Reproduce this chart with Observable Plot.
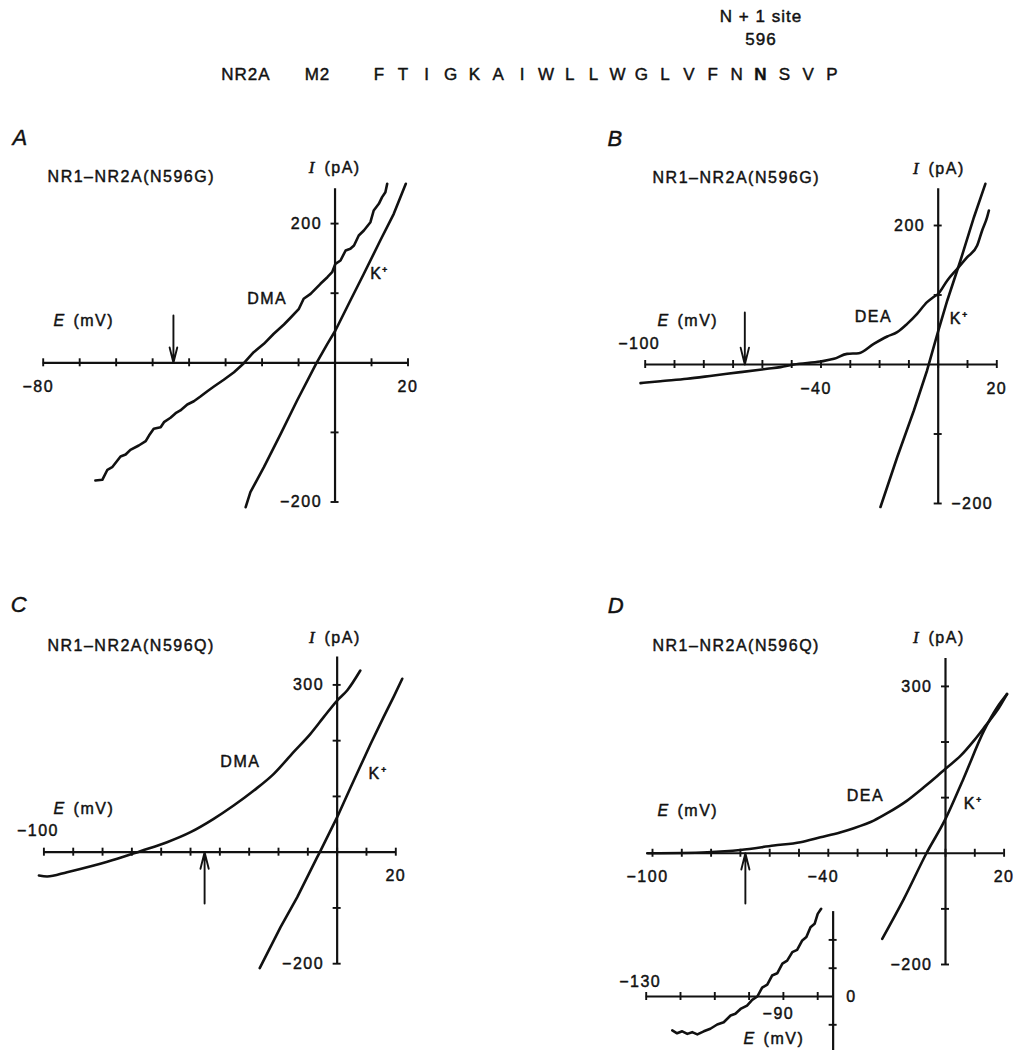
<!DOCTYPE html>
<html><head><meta charset="utf-8">
<script src="https://cdn.jsdelivr.net/npm/d3@7"></script>
<script src="https://cdn.jsdelivr.net/npm/@observablehq/plot@0.6"></script>
<style>
body{margin:0;background:#fff;}
#fig{position:relative;width:1015px;height:1050px;overflow:hidden;background:#fff;}
#fig svg{position:absolute;overflow:visible;}
</style></head><body><div id="fig"></div>
<script>
// ---------------- header data ----------------
const seqLetters = ["F","T","I","G","K","A","I","W","L","L","W","G","L","V","F","N","N","S","V","P"];
const seqBoldIndex = 16;
const seqPrefix = [{text:"NR2A", i:-5.6}, {text:"M2", i:-2.6}];
const siteLabels = [{text:"596", row:0.6}, {text:"N + 1 site", row:1}];

// ---------------- panel A : NR1-NR2A(N596G), DMA ----------------
const aDMA = [[-65.7,-169.1],[-63.8,-168.1],[-62.4,-153.7],[-61.1,-150],[-58.8,-134.6],[-57.4,-131.8],[-56.1,-125],[-53.8,-118.8],[-51.9,-112.6],[-51.0,-104.5],[-49.7,-94.8],[-47.8,-92.5],[-46.9,-85.3],[-45.1,-79.0],[-43.7,-72.4],[-42.4,-68.5],[-40.5,-59.9],[-38.7,-55.2],[-36.9,-48.4],[-35.0,-40.8],[-33.2,-34.1],[-30.5,-24.4],[-27.7,-13.5],[-25.0,-0.6],[-22.3,15.2],[-19.5,27.3],[-16.8,41.7],[-14.0,55],[-12.2,64.7],[-9.9,77.6],[-8.6,92],[-6.7,99.1],[-4.0,113.5],[-2.1,123],[-0.8,130.2],[0.1,142.2],[1.5,147],[2.9,161.4],[4.2,163.8],[5.2,168.5],[6.5,182.9],[7.9,190.1],[9.7,202],[10.6,218.8],[12.0,228.4],[12.9,238],[13.8,245.1],[14.3,257.2]];
const aK = [[-24.5,-207.5],[-23.2,-185.9],[-19.5,-150],[-14.9,-102],[-10.4,-54.2],[-5.1,-0.6],[-2.1,27.3],[0.1,46.4],[4.2,89.5],[7.9,127.9],[12.4,175.7],[16.1,214],[19.4,257.2]];
const aXTicks = [-80,-70,-60,-50,-40,-30,-20,-10,0,10,20];
const aYTicks = [-200,-100,100,200];
const aXLabels = [{v:-80,t:"−80"},{v:20,t:"20"}];
const aYLabels = [{v:200,t:"200"},{v:-200,t:"−200"}];

// ---------------- panel B : NR1-NR2A(N596G), DEA ----------------
const bDEA = [[-101.6,-26.8],[-94.8,-24],[-85.7,-20.6],[-76.6,-15.8],[-67.5,-11],[-58.4,-6.2],[-53.8,-3.8],[-49.3,0],[-40.2,4.3],[-35.6,8.1],[-31.1,15.3],[-27.1,16.3],[-22,29.7],[-17.4,40.3],[-14,46.5],[-10.6,58.5],[-7.2,72.9],[-3.8,89.7],[-1.7,96.8],[0,101.7],[3.1,120.9],[6.5,137.7],[9.9,154.4],[13.3,171.2],[15,192.8],[16.7,212],[17.3,221.6]];
const bK = [[-19.7,-205],[-14,-133.4],[-8.3,-66.2],[-3.8,-8.6],[-0.1,46.5],[3.1,92.1],[7.6,149.6],[12.2,211.9],[16.1,260]];
const bXTicks = [-100,-90,-80,-70,-60,-50,-40,-30,-20,-10,0,10,20];
const bYTicks = [-200,-100,100,200];
const bXLabels = [{v:-40,t:"−40"},{v:20,t:"20"}];
const bXLabelsAbove = [{v:-100,t:"−100"}];
const bYLabels = [{v:200,t:"200"}];
const bYLabelsRight = [{v:-200,t:"−200"}];

// ---------------- panel C : NR1-NR2A(N596Q), DMA ----------------
const cDMA = [[-101.7,-41.8],[-98.9,-43.6],[-92.1,-35.9],[-83,-23.9],[-75,-11.9],[-67.1,1.8],[-58,17.9],[-50,35.9],[-42.1,59.8],[-35.3,83.7],[-28.4,110.6],[-21.6,140.5],[-14.8,180],[-9.1,212.3],[-4.6,242.1],[0,272],[3.4,290],[7.9,325.8]];
const cK = [[-26.4,-208],[-19.3,-134.5],[-13.6,-80.7],[-6.8,-9],[-5.9,0],[0,62.8],[4.5,115],[7.9,154],[11.4,194],[15.9,243],[19.3,279],[22.2,311]];
const cXTicks = [-100,-90,-80,-70,-60,-50,-40,-30,-20,-10,0,10,20];
const cYTicks = [-200,-100,100,200,300];
const cXLabels = [{v:20,t:"20"}];
const cXLabelsAbove = [{v:-100,t:"−100"}];
const cYLabels = [{v:300,t:"300"},{v:-200,t:"−200"}];

// ---------------- panel D : NR1-NR2A(N596Q), DEA ----------------
const dDEA = [[-101.8,0],[-90,0.5],[-81.3,1.8],[-70,6],[-58.6,13.8],[-49.5,19.8],[-42.7,28.7],[-36,37.5],[-31.3,45],[-24.5,58.7],[-19.9,72],[-13.1,94.7],[-7.4,118.6],[-2.8,139],[0,152],[5.1,175],[9.7,202.5],[13.7,229.4],[17.6,256.4],[21,286.4]];
const dK = [[-21.6,-153.9],[-14.2,-82],[-6.5,0],[0,61.8],[6.2,135],[13.1,220],[17.6,262],[21,286]];
const dXTicks = [-100,-90,-80,-70,-60,-50,-40,-30,-20,-10,0,10,20];
const dYTicks = [-200,-100,100,200,300];
const dXLabels = [{v:-100,t:"−100"},{v:-40,t:"−40"},{v:20,t:"20"}];
const dYLabels = [{v:300,t:"300"},{v:-200,t:"−200"}];

// ---------------- inset of D ----------------
const insetTrace = [[-122.4,-12],[-121.0,-13],[-119.5,-12.3],[-118.0,-13.2],[-116.6,-12.6],[-115.1,-13.4],[-113.2,-12.3],[-111.3,-11.4],[-109.3,-9.9],[-107.4,-9.1],[-105.4,-6.7],[-104.0,-6.1],[-102.5,-4.4],[-100.6,-3.2],[-99.1,-1.2],[-97.6,0],[-96.2,3.1],[-94.7,4.2],[-93.3,7.4],[-91.8,8.2],[-90.3,11.6],[-88.9,12.7],[-87.4,15.7],[-86.0,16.5],[-84.5,19.8],[-83.3,21.0],[-82.1,24.5],[-80.9,25.7],[-80.0,29.2],[-79.0,31.0]];
const insetXTicks = [-130,-120,-110,-100,-90,-80];
const insetYTicks = [-10,10,20];
const insetXLabels = [{v:-90,t:"−90"}];
const insetXLabelsAbove = [{v:-130,t:"−130"}];
const insetYLabelsRight = [{v:0,t:"0"}];

const FONT = "'Liberation Sans', Arial, Helvetica, sans-serif";
const INK = "#111";
const TXT = {fill: INK, stroke: INK, strokeWidth: 0.45};
const fig = document.getElementById("fig");

function place(svg, left, top) {
  svg.style.position = "absolute";
  svg.style.left = left + "px";
  svg.style.top = top + "px";
  svg.style.background = "transparent";
  svg.style.overflow = "visible";
  fig.appendChild(svg);
}

// header
{
  const items = seqLetters.map((t, i) => ({t, i}));
  const svg = Plot.plot({
    width: 1015, height: 100, margin: 0,
    style: {fontFamily: FONT, fontSize: "17px", color: INK, background: "transparent", letterSpacing: "1px"},
    x: {type: "linear", domain: [0, 19], range: [379, 832], axis: null},
    y: {domain: [0, 1], range: [74, 16], axis: null},
    marks: [
      Plot.text(items.filter(d => d.i !== seqBoldIndex), {x: "i", y: () => 0, text: "t", fontSize: 17, ...TXT}),
      Plot.text(items.filter(d => d.i === seqBoldIndex), {x: "i", y: () => 0, text: "t", fontSize: 17, fontWeight: "bold", ...TXT}),
      Plot.text(seqPrefix, {x: "i", y: () => 0, text: "text", fontSize: 17, ...TXT}),
      Plot.text(siteLabels, {x: () => seqBoldIndex, y: "row", text: "text", fontSize: 17, ...TXT})
    ]
  });
  place(svg, 0, 0);
}

function panel(p) {
  const sub = (arr, off) => arr.map(v => v - off);
  const yc = p.yCross, xc = p.xCross;
  const marks = [
    Plot.ruleY([yc], {x1: () => p.xAxis[0], x2: () => p.xAxis[1], strokeWidth: 2.2, stroke: INK}),
    Plot.ruleX([xc], {y1: () => p.yAxis[0], y2: () => p.yAxis[1], strokeWidth: 2.2, stroke: INK}),
    Plot.ruleX(p.xTicks, {x: d => d, y1: () => yc, y2: () => yc, insetTop: -4, insetBottom: -4, strokeWidth: 1.9, stroke: INK}),
    Plot.ruleY(p.yTicks, {y: d => d, x1: () => xc, x2: () => xc, insetLeft: -4, insetRight: -4, strokeWidth: 1.9, stroke: INK})
  ];
  for (const c of p.curves) {
    marks.push(Plot.line(c.data, {x: d => d[0], y: d => d[1], stroke: INK, strokeWidth: 2.6, curve: c.curve, strokeLinejoin: "round"}));
  }
  const lbl = {...TXT, fontSize: 16};
  const neg = d => d.v < 0, pos = d => d.v >= 0;
  if (p.xLabels) {
    marks.push(Plot.text(p.xLabels.filter(neg), {x: "v", y: () => yc, text: "t", dy: p.belowDy || 24, dx: -5, ...lbl}));
    marks.push(Plot.text(p.xLabels.filter(pos), {x: "v", y: () => yc, text: "t", dy: p.belowDy || 24, ...lbl}));
  }
  if (p.xLabelsAbove) {
    marks.push(Plot.text(p.xLabelsAbove, {x: "v", y: () => yc, text: "t", dy: p.aboveDy || -21, dx: -6, ...lbl}));
  }
  if (p.yLabels) marks.push(Plot.text(p.yLabels, {x: () => xc, y: "v", text: "t", textAnchor: "end", dx: -13, ...lbl}));
  if (p.yLabelsRight) marks.push(Plot.text(p.yLabelsRight, {x: () => xc, y: "v", text: "t", textAnchor: "start", dx: 13, ...lbl}));
  if (p.letter) marks.push(Plot.text([p.letter], {x: "x", y: "y", text: "text", fontStyle: "italic", fontSize: 22, ...TXT}));
  if (p.title) marks.push(Plot.text([p.title], {x: "x", y: "y", text: "text", textAnchor: "start", fontSize: 16, ...TXT}));
  if (p.iAxis) {
    marks.push(Plot.text([p.iAxis], {x: "x", y: "y", text: () => "I", fontFamily: "'Liberation Serif', 'Times New Roman', serif", fontStyle: "italic", fontSize: 17, ...TXT}));
    marks.push(Plot.text([p.iAxis], {x: "x", y: "y", text: () => "(pA)", textAnchor: "start", dx: 12, fontSize: 16, ...TXT}));
  }
  if (p.eAxis) {
    marks.push(Plot.text([p.eAxis], {x: "x", y: "y", text: () => "E", textAnchor: "start", fontStyle: "italic", fontSize: 16, ...TXT}));
    marks.push(Plot.text([p.eAxis], {x: "x", y: "y", text: () => "(mV)", textAnchor: "start", dx: 20, fontSize: 16, ...TXT}));
  }
  if (p.curveLabels) marks.push(Plot.text(p.curveLabels, {x: "x", y: "y", text: "text", fontSize: 16, ...TXT}));
  if (p.arrow) marks.push(Plot.arrow([p.arrow], {x1: "x", x2: "x", y1: "from", y2: () => yc, stroke: INK, strokeWidth: 1.9, headLength: 15, headAngle: 28}));
  const svg = Plot.plot({
    width: p.width, height: p.height, margin: 0,
    style: {fontFamily: FONT, fontSize: "16px", color: INK, background: "transparent", letterSpacing: "1.5px"},
    x: {type: "linear", domain: p.xDom, range: sub(p.xPx, p.left), axis: null},
    y: {type: "linear", domain: p.yDom, range: sub(p.yPx, p.top), axis: null},
    marks
  });
  place(svg, p.left, p.top);
}

// Panel A
panel({
  left: 0, top: 100, width: 500, height: 430,
  xDom: [-80, 20], xPx: [42.7, 407.5], yDom: [-200, 200], yPx: [501.5, 223.1],
  xCross: 0, yCross: 0, xAxis: [-80, 20], yAxis: [-200, 250],
  xTicks: aXTicks, yTicks: aYTicks, xLabels: aXLabels, yLabels: aYLabels,
  curves: [{data: aDMA, curve: "linear"}, {data: aK, curve: "linear"}],
  letter: {text: "A", x: -86.2, y: 323},
  title: {text: "NR1–NR2A(N596G)", x: -78.8, y: 267.7},
  iAxis: {x: -6.2, y: 280.6},
  eAxis: {x: -77.2, y: 60.8},
  curveLabels: [{text: "DMA", x: -18.6, y: 92}, {text: "K⁺", x: 12.2, y: 128.3}],
  arrow: {x: -44.3, from: 68}
});

// Panel B
panel({
  left: 500, top: 100, width: 515, height: 430,
  xDom: [-100, 20], xPx: [644.7, 996.3], yDom: [-200, 200], yPx: [503, 225],
  xCross: 0, yCross: 0, xAxis: [-100, 20], yAxis: [-200, 253],
  xTicks: bXTicks, yTicks: bYTicks, xLabels: bXLabels, xLabelsAbove: bXLabelsAbove,
  yLabels: bYLabels, yLabelsRight: bYLabelsRight,
  curves: [{data: bDEA, curve: "monotone-x"}, {data: bK, curve: "linear"}],
  letter: {text: "B", x: -110.1, y: 324.5},
  title: {text: "NR1–NR2A(N596G)", x: -97.5, y: 269},
  iAxis: {x: -7.4, y: 282},
  eAxis: {x: -95.8, y: 63.3},
  curveLabels: [{text: "DEA", x: -22.1, y: 68}, {text: "K⁺", x: 7.1, y: 66.2}],
  arrow: {x: -66, from: 75}
});

// Panel C
panel({
  left: 0, top: 570, width: 500, height: 420,
  xDom: [-100, 20], xPx: [43.4, 395.3], yDom: [-200, 300], yPx: [963.2, 684.4],
  xCross: 0, yCross: 0, xAxis: [-100, 20], yAxis: [-200, 350],
  xTicks: cXTicks, yTicks: cYTicks, xLabels: cXLabels, xLabelsAbove: cXLabelsAbove, yLabels: cYLabels,
  curves: [{data: cDMA, curve: "monotone-x"}, {data: cK, curve: "linear"}],
  letter: {text: "C", x: -108.3, y: 443.3},
  title: {text: "NR1–NR2A(N596Q)", x: -98.8, y: 370.7},
  iAxis: {x: -8.4, y: 385},
  eAxis: {x: -96.7, y: 78.4},
  curveLabels: [{text: "DMA", x: -33, y: 161.4}, {text: "K⁺", x: 13.9, y: 141.1}],
  arrow: {x: -45.2, from: -92}
});

// Panel D
panel({
  left: 500, top: 570, width: 515, height: 480,
  xDom: [-100, 20], xPx: [652, 1003.6], yDom: [-200, 300], yPx: [964, 685.9],
  xCross: 0, yCross: 0, xAxis: [-101.5, 20], yAxis: [-200, 350],
  xTicks: dXTicks, yTicks: dYTicks, xLabels: dXLabels, yLabels: dYLabels,
  curves: [{data: dDEA, curve: "monotone-x"}, {data: dK, curve: "monotone-x"}],
  letter: {text: "D", x: -112.3, y: 445},
  title: {text: "NR1–NR2A(N596Q)", x: -100, y: 373.2},
  iAxis: {x: -9.9, y: 387.5},
  eAxis: {x: -98.3, y: 76.7},
  curveLabels: [{text: "DEA", x: -27.3, y: 103.7}, {text: "K⁺", x: 9.4, y: 89.3}],
  arrow: {x: -68.3, from: -90.4}
});

// Inset of D
panel({
  left: 600, top: 890, width: 260, height: 160,
  xDom: [-130, -80], xPx: [645.7, 817.2], yDom: [0, 10], yPx: [996, 967.7],
  xCross: -75.5, yCross: 0, xAxis: [-130, -75.5], yAxis: [-19.5, 30],
  xTicks: insetXTicks, yTicks: insetYTicks,
  xLabels: insetXLabels, xLabelsAbove: insetXLabelsAbove, yLabelsRight: insetYLabelsRight,
  belowDy: 17, aboveDy: -15,
  curves: [{data: insetTrace, curve: "linear"}],
  eAxis: {x: -101.6, y: -14.9}
});
</script></body></html>
